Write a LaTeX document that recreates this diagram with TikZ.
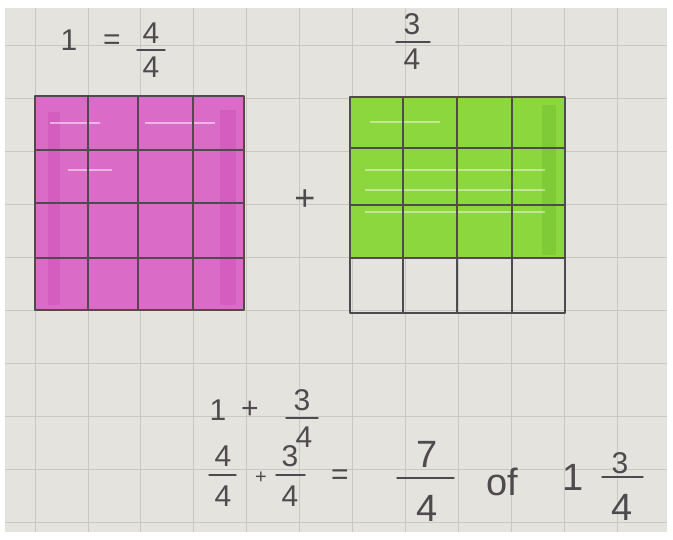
\documentclass[tikz,border=0pt]{standalone}
\usepackage{fontspec}
\setmainfont{Liberation Sans}
\begin{document}
\begin{tikzpicture}[x=1pt,y=-1pt,
  paperline/.style={draw=gridgray,line width=0.7pt},
  pen/.style={draw=inkgray,line width=1.6pt,line cap=round,line join=round},
  hand/.style={text=inkgray,font=\fontsize{30}{30}\selectfont,inner sep=0pt},
  bigh/.style={text=inkgray,font=\fontsize{38}{38}\selectfont,inner sep=0pt},
  fbar/.style={draw=inkgray,line width=1.4pt,line cap=round}]
\definecolor{paper}{RGB}{229,227,221}
\definecolor{gridgray}{RGB}{200,199,194}
\definecolor{inkgray}{RGB}{78,74,78}
\definecolor{pinkfill}{RGB}{218,108,200}
\definecolor{pinkdark}{RGB}{205,60,175}
\definecolor{greenfill}{RGB}{140,214,62}
\definecolor{greendark}{RGB}{95,180,40}
\useasboundingbox (0,0) rectangle (673,539);
\fill[white] (0,0) rectangle (673,539);
\fill[paper] (5,8) rectangle (667,532);
% paper grid
\foreach \gx in {35,88,140,193,246,299,352,405,458,511,564,617} \draw[paperline] (\gx,8) -- (\gx,532);
\foreach \gy in {45,98,151,204,257,310,363,416,469,522} \draw[paperline] (5,\gy) -- (667,\gy);
% pink square (4/4)
\fill[pinkfill] (35,96) rectangle (244,310);
\fill[pinkdark,opacity=0.3] (48,112) rectangle (60,305);
\fill[pinkdark,opacity=0.3] (220,110) rectangle (236,305);
\foreach \sy/\sa/\sb in {123/50/100,123/145/215,170/68/112} \draw[white,opacity=0.5,line width=1.2pt] (\sa,\sy) -- (\sb,\sy);
\draw[pen] (35,96) rectangle (244,310);
\foreach \vx in {88,138,193} \draw[pen] (\vx,96) -- (\vx,310);
\foreach \hy in {150,203,258} \draw[pen] (35,\hy) -- (244,\hy);
% green square (3/4)
\fill[greenfill] (350,97) rectangle (565,258);
\fill[greendark,opacity=0.3] (542,105) rectangle (556,255);
\foreach \sy/\sa/\sb in {122/370/440,170/365/545,190/365/545,212/365/545} \draw[white,opacity=0.45,line width=1.2pt] (\sa,\sy) -- (\sb,\sy);
\draw[pen] (350,97) rectangle (565,313);
\foreach \vx in {403,457,512} \draw[pen] (\vx,97) -- (\vx,313);
\foreach \hy in {148,205,258} \draw[pen] (350,\hy) -- (565,\hy);
% plus between squares
\node[hand,font=\fontsize{36}{36}\selectfont] (plus) at (305,200) {+};
% top labels
\node[hand] (one) at (69,40) {1};
\node[hand] (eq) at (112,42) {=};
\node[hand] (n1) at (151,33) {4};
\node[hand] (d1) at (151,67) {4};
\draw[fbar] (137,50) -- (165,50);
\node[hand] (n2) at (412,24) {3};
\node[hand] (d2) at (412,59) {4};
\draw[fbar] (396,42) -- (430,42);
% bottom line 1
\node[hand] (b1) at (218,410) {1};
\node[hand] (bp1) at (250,410) {+};
\node[hand] (bn1) at (302,400) {3};
\node[hand] (bd1) at (304,437) {4};
\draw[fbar] (286,418) -- (318,418);
% bottom line 2
\node[hand] (cn1) at (223,456) {4};
\node[hand] (cd1) at (223,496) {4};
\draw[fbar] (209,475) -- (236,475);
\node[hand,font=\fontsize{20}{20}\selectfont] (cp) at (261,478) {+};
\node[hand] (cn2) at (290,456) {3};
\node[hand] (cd2) at (290,496) {4};
\draw[fbar] (276,475) -- (305,475);
\node[hand] (ceq) at (340,477) {=};
\node[bigh] (sn) at (427,454) {7};
\node[bigh] (sd) at (427,508) {4};
\draw[fbar] (397,478) -- (454,478);
\node[bigh] (of) at (502,482) {of};
\node[bigh] (mone) at (573,477) {1};
\node[hand] (mn) at (620,463) {3};
\node[bigh] (md) at (622,507) {4};
\draw[fbar] (602,477) -- (643,477);
\end{tikzpicture}
\end{document}
